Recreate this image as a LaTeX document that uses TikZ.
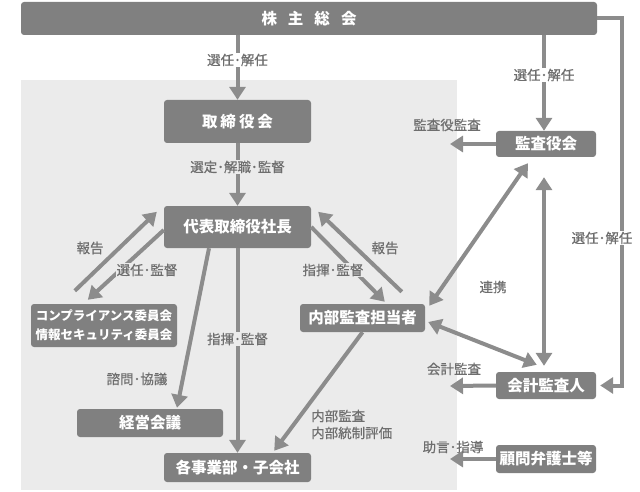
\documentclass[tikz,border=0pt]{standalone}
\usepackage{fontspec}
\newfontfamily\jp{Noto Sans CJK JP}
\newfontfamily\jpl[FakeBold=0.5]{Noto Sans CJK JP}
\usetikzlibrary{arrows.meta,calc}
\definecolor{boxc}{HTML}{808080}
\definecolor{linec}{HTML}{8C8C8C}
\definecolor{labc}{HTML}{6E6E6E}
\definecolor{bgc}{HTML}{EBEBEB}
\tikzset{
 box/.style={fill=boxc, rounded corners=3pt, text=white, font=\jp\bfseries\fontsize{15.5}{18}\selectfont, inner sep=0pt, align=center},
 lab/.style={text=labc, font=\jpl\fontsize{13.5}{17}\selectfont, inner sep=1pt},
 arr/.style={draw=linec, line width=4pt, -{Triangle[width=16pt,length=13pt]}},
 darr/.style={draw=linec, line width=4pt, {Triangle[width=16pt,length=13pt]}-{Triangle[width=16pt,length=13pt]}},
}
\begin{document}
\begin{tikzpicture}[x=1pt,y=-1pt]
\useasboundingbox (0,0) rectangle (640,492);
\fill[bgc] (21,80) rectangle (457,490);

% boxes
\node[box, minimum width=576pt, minimum height=33pt] (kabu) at (309,18.5) {株\hspace{11pt}主\hspace{11pt}総\hspace{11pt}会};
\node[box, minimum width=147pt, minimum height=43pt] (tori) at (237.5,121.5) {取\hspace{3pt}締\hspace{3pt}役\hspace{3pt}会};
\node[box, minimum width=147pt, minimum height=42pt] (daihyo) at (237.5,227) {代表取締役社長};
\node[box, minimum width=146pt, minimum height=43pt, font=\jp\bfseries\fontsize{12.5}{19}\selectfont] (comp) at (104,325.5) {コンプライアンス委員会\\情報セキュリティ委員会};
\node[box, minimum width=146pt, minimum height=28pt] (keiei) at (150,423) {経営会議};
\node[box, minimum width=147pt, minimum height=29pt] (jigyo) at (237.5,467.5) {各事業部・子会社};
\node[box, minimum width=125pt, minimum height=28pt] (naibu) at (362.5,318) {内部監査担当者};
\node[box, minimum width=100pt, minimum height=26pt] (kansa) at (546,144) {監査役会};
\node[box, minimum width=100pt, minimum height=27pt] (kaikei) at (546,385.5) {会計監査人};
\node[box, minimum width=100pt, minimum height=28pt] (komon) at (546,459) {顧問弁護士等};

% free ends
\coordinate (rc) at (622,18.5);
\coordinate (kaend) at (450,144);
\coordinate (kkend) at (450,386);
\coordinate (koend) at (450,459);

% connectors
\draw[arr] (tori.north |- kabu.south) -- (tori.north);
\draw[arr] ([xshift=-2pt]kansa.north |- kabu.south) -- ([xshift=-2pt]kansa.north);
\draw[arr] (kabu.east) -- (rc) |- ([xshift=4pt]kaikei.east);
\draw[arr] (tori.south) -- (daihyo.north);
\draw[arr] ([xshift=44pt,yshift=13pt]comp.north west) -- ([xshift=-7pt,yshift=-6pt]daihyo.north west);
\draw[arr] ([yshift=-3pt]daihyo.west) -- ([xshift=57pt,yshift=4pt]comp.north west);
\draw[arr] ([xshift=-28.5pt]daihyo.south) -- ([xshift=27pt,yshift=1pt]keiei.north);
\draw[arr] (daihyo.south) -- (jigyo.north);
\draw[arr] (daihyo.east) -- ([xshift=85pt,yshift=2pt]naibu.north west);
\draw[arr] ([xshift=102pt,yshift=12pt]naibu.north west) -- ([xshift=7pt,yshift=-6pt]daihyo.north east);
\draw[arr] (naibu.south) -- ([xshift=-37pt,yshift=2pt]jigyo.north east);
\draw[darr] ([xshift=4pt,yshift=-2pt]naibu.north east) -- ([xshift=-18pt,yshift=-6pt]kansa.south);
\draw[darr] ([xshift=3pt,yshift=-4pt]naibu.east) -- ([xshift=41pt,yshift=7pt]kaikei.north west);
\draw[darr] ([xshift=-2pt,yshift=-20pt]kansa.south) -- ([xshift=-2pt,yshift=6pt]kaikei.north);
\draw[arr] (kansa.west) -- (kaend);
\draw[arr] (kaikei.west) -- (kkend);
\draw[arr] (komon.west) -- (koend);

% labels
\node[lab, fill=white] (l1) at (237.5,60) {選任･解任};
\node[lab, fill=white] (l2) at (544,75) {選任･解任};
\node[lab, fill=white] (l3) at (602,238) {選任･解任};
\node[lab, fill=bgc] (l4) at (237.5,167) {選定･解職･監督};
\node[lab] (l5) at (447,125) {監査役監査};
\node[lab, fill=bgc] (l6) at (90,248) {報告};
\node[lab, fill=bgc] (l7) at (147,270) {選任･監督};
\node[lab, fill=bgc] (l8) at (333,270) {指揮･監督};
\node[lab, fill=bgc] (l9) at (385,248) {報告};
\node[lab, fill=bgc] (l10) at (137,379) {諮問･協議};
\node[lab, fill=bgc] (l11) at (237.5,339) {指揮･監督};
\node[lab] (l12) at (493,287) {連携};
\node[lab] (l13) at (454,369) {会計監査};
\node[lab] (l14) at (453,447) {助言･指導};
\node[lab, fill=bgc, align=left, anchor=west] (l15) at (310,424.5) {内部監査\\内部統制評価};
\end{tikzpicture}
\end{document}
